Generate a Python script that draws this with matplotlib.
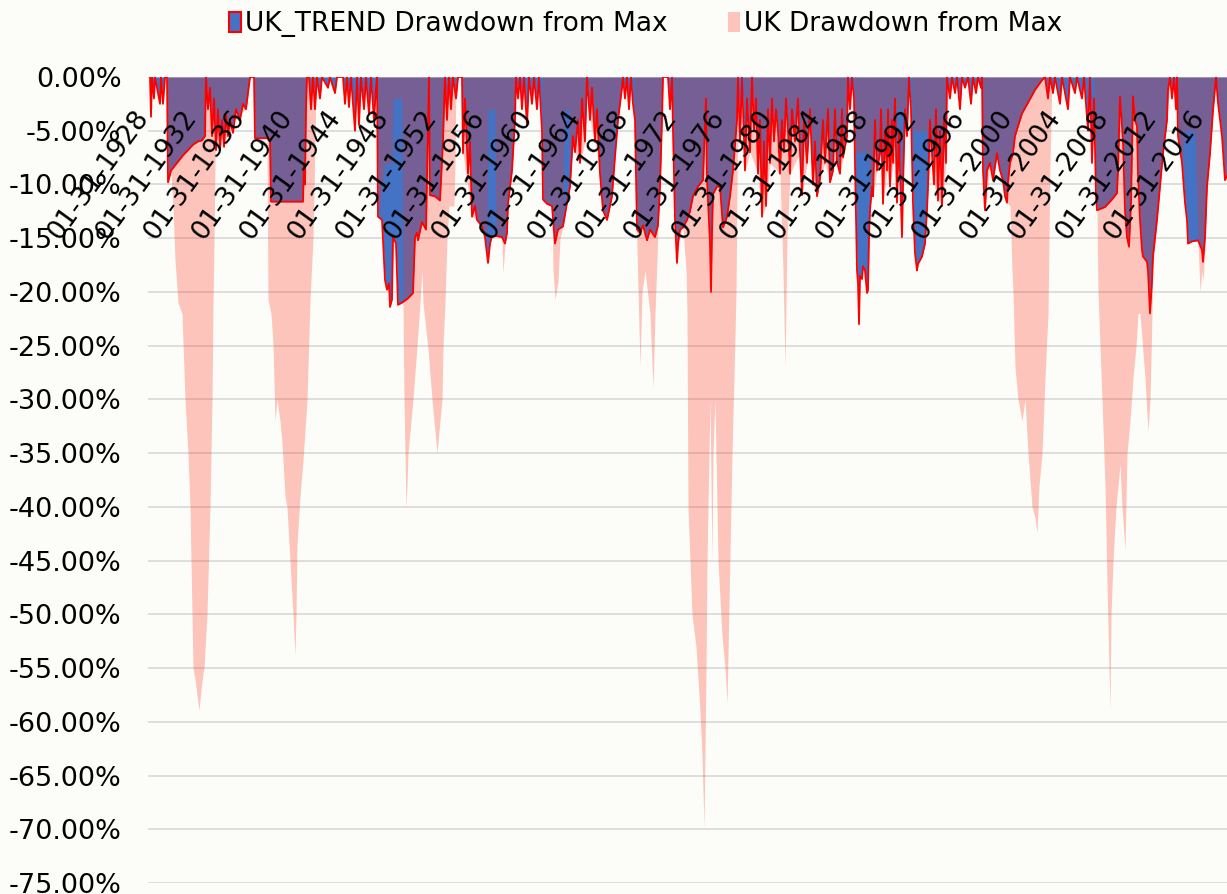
import matplotlib
matplotlib.use("Agg")
import matplotlib.pyplot as plt
from matplotlib.patches import Patch
from matplotlib.transforms import blended_transform_factory, ScaledTranslation

# ---- data: month offset from Jan-1928, drawdown in percent ----
trend_points = [(0,0),(1,-3.7),(2,0),(4,-2),(5,0),(10,-2.5),(11,0),(13,-2.5),(15,0),(17,0),(18,-9.8),(21,-8.7),(27,-8.0),(33,-7.3),(38,-6.8),(43,-6.3),(48,-6.0),(52,-5.9),(55,-5.5),(56,0),(58,-3),(60,-1),(62,-5.5),(64,-2),(66,-6.8),(68,-3),(70,-6.8),(72,-4),(74,-6.5),(76,-3.5),(78,-5.5),(80,-4),(83,-5.2),(86,-3),(90,-4),(93,-2.5),(96,-3),(98,-1.5),(100,0),(104,0),(105,-5.7),(120,-5.7),(121,-11.6),(153,-11.6),(154,-8),(155,-10),(156,-3),(157,0),(159,0),(161,-3),(163,0),(165,-3),(167,0),(170,-2),(172,0),(178,-1),(180,0),(185,-1.5),(187,0),(193,0),(195,-2.5),(197,0),(199,-2.8),(201,0),(205,-5),(207,0),(209,-4.5),(211,0),(214,-3),(216,0),(219,-3.5),(221,0),(224,-4),(226,-1),(227,0),(228,-13),(232,-13.3),(235,-18.9),(237,-19.8),(239,-19.2),(240,-21.4),(242,-20.7),(243,-14.9),(246,-15.5),(248,-21.2),(252,-21),(258,-20.6),(263,-20.1),(265,-14.9),(267,-14.5),(268,-15.2),(272,-13.5),(276,-14.2),(278,-5),(279,0),(280,-11),(285,-11.1),(290,-11.5),(293,-6),(295,0),(297,-4),(299,0),(301,-3),(303,0),(306,-2),(308,0),(312,0),(313,-7.1),(315,-2),(318,-9),(320,-6),(322,-13),(325,-12),(327,-13.3),(332,-13.9),(335,-14.9),(338,-17.3),(340,-15.5),(342,-14.8),(347,-14.8),(352,-14.9),(355,-15.5),(357,-14.5),(358,-11.8),(362,-8.7),(365,-4),(366,0),(368,-2),(370,0),(372,-3),(374,0),(377,-4.5),(379,0),(382,-2.5),(384,0),(387,-3),(389,0),(392,-5),(393,-11.4),(397,-11.8),(402,-12),(405,-15.5),(408,-14.2),(413,-13.9),(417,-11.7),(420,-10.2),(423,-5.5),(425,-7),(428,-4),(430,-8),(432,-2),(435,-6),(437,0),(440,-4),(442,-1),(445,-6),(447,-3),(450,-9),(453,-12.4),(457,-13.3),(462,-11.1),(465,-7.4),(468,-4),(472,-1),(473,0),(475,-2),(477,0),(479,-3),(481,0),(483,-2.5),(485,-4),(487,-14.2),(490,-14.5),(493,-13.8),(497,-15.2),(500,-14.2),(505,-14.9),(508,-13.8),(510,-10.2),(512,-4),(513,0),(518,0),(520,-3),(522,0),(523,-5),(525,-13.3),(527,-17.3),(528,-15.5),(530,-14.2),(533,-14),(537,-13.3),(540,-12.5),(543,-11.1),(548,-10.2),(553,-9.6),(556,-2),(557,-9.5),(560,-15.5),(561,-20),(562,-14.5),(563,-10.9),(567,-10.2),(570,-10.2),(573,-14),(577,-13),(580,-11.1),(583,-8.7),(587,-4),(588,0),(590,-6),(592,0),(595,-8.7),(597,-2),(600,-7),(602,0),(604,-5),(606,-2),(608,-9),(610,-4),(612,-13),(614,-6),(616,-12),(618,-3),(620,-8),(622,-2),(624,-6),(626,-3),(628,-5),(630,-9),(632,-4),(634,-7),(636,-2),(638,-5),(640,-9),(642,-3),(645,-6),(648,-2),(650,-7),(652,-11),(654,-4),(657,-8),(660,-3),(663,-10),(665,-6),(667,-11.1),(670,-9.5),(673,-4),(675,-8),(678,-3),(680,-9.8),(683,-8.7),(685,-3),(687,-7.9),(690,-9),(692,-3),(693,-7.5),(697,-5.5),(698,0),(700,-3),(702,0),(704,-2),(705,-8),(707,-18),(708,-19.2),(709,-23),(710,-18.5),(712,-18.8),(713,-17.6),(715,-18),(717,-20.1),(718,-19.8),(719,-14.9),(720,-12.4),(722,-10.2),(723,-11.1),(725,-4),(727,-8.7),(730,-7.1),(731,-3),(733,-11.8),(735,-5),(737,-8.7),(738,-3),(740,-10.2),(742,-4),(743,-8),(745,-2),(747,-11.7),(749,-5),(750,-8.7),(752,-14.9),(753,-10.2),(755,-3),(757,-5.5),(759,0),(761,-3),(763,-11.8),(765,-16.4),(767,-18),(768,-17.4),(772,-16.7),(775,-15.5),(777,-12.4),(778,-10.2),(780,-4),(782,-7.1),(784,-10),(786,-3),(788,-11.5),(790,-5),(792,-12),(794,-4),(796,-8),(797,0),(800,-2),(802,0),(805,-1.5),(807,0),(810,-3),(812,0),(815,-1),(818,0),(821,-2.5),(823,0),(826,-1.5),(828,0),(831,-1),(832,0),(833,-8.7),(835,-12.4),(837,-8.7),(840,-8),(843,-9.6),(847,-7.1),(850,-8.7),(853,-9.6),(855,-11.1),(857,-11.7),(858,-9.8),(860,-8),(863,-7.1),(865,-5.5),(872,-3.4),(878,-2.4),(885,-1.2),(892,-0.3),(895,0),(898,-2),(900,0),(903,-1.5),(905,0),(910,-2.5),(912,0),(918,-3),(920,0),(925,-1.5),(927,0),(932,-2),(934,0),(938,-5),(940,0),(942,-8),(944,-2),(946,-11),(947,-12.4),(955,-12.1),(962,-11.4),(967,-10.8),(968,-8.7),(970,-1.8),(973,-6),(975,-12.4),(977,-14.9),(979,-15.8),(981,-11.8),(983,-1.8),(985,-4),(987,-4.6),(988,-9),(990,-13.3),(992,-16.1),(993,-16.7),(997,-17.2),(998,-18),(1000,-22),(1002,-19),(1003,-16.7),(1007,-13.3),(1010,-10.2),(1013,-7.1),(1017,-4),(1018,-1.2),(1020,0),(1022,-2),(1024,0),(1026,-3),(1027,0),(1028,-5.5),(1032,-8),(1035,-11.7),(1037,-13.3),(1038,-15.5),(1042,-15.3),(1048,-15.2),(1052,-16.1),(1053,-17.2),(1055,-14.9),(1057,-10.2),(1060,-7.1),(1063,-3.1),(1066,0),(1068,-2.4),(1072,-5.5),(1075,-9.6),(1077,-9.2)]

uk_points = [(0,0),(17,0),(18,-9.8),(21,-9),(23,-12),(25,-17),(28,-21),(32,-22),(35,-30),(38,-35),(40,-40),(42,-50),(43,-55),(45,-56),(47,-57.5),(49,-58.9),(51,-57),(53,-55.5),(54,-55),(57,-50),(60,-40),(62,-30),(63,-21),(64,-15),(65,-8),(66,-5),(68,-4),(75,-6),(85,-4),(95,-3),(100,0),(104,0),(105,-5.7),(117,-5.7),(118,-20.7),(121,-22),(123,-24.8),(125,-32),(127,-30),(130,-32),(132,-34),(135,-39),(137,-40),(140,-45),(143,-50),(145,-53.8),(146,-50),(147,-43.5),(150,-39),(153,-35.7),(157,-30),(160,-20.7),(163,-15),(165,-6),(166,0),(227,0),(228,-13),(232,-10),(235,-8),(242,-8),(243,-2),(252,-2),(253,-21),(254,-30),(255,-35),(256,-40.1),(257,-38),(258,-35),(263,-30),(267,-25),(270,-21),(272,-18),(273,-21),(278,-25.3),(282,-30),(285,-33),(287,-35),(289,-33),(292,-30),(293,-25),(295,-21),(297,-15),(299,-12),(304,-12),(305,-8),(306,0),(312,0),(313,-7.1),(322,-13),(328,-13.3),(337,-14.5),(338,-3),(345,-3),(346,-14.8),(352,-15),(353,-18.3),(355,-15.5),(357,-14.5),(358,-11.8),(362,-8.7),(365,-4),(366,0),(392,0),(393,-11.4),(397,-11.8),(402,-12),(403,-18),(405,-20.7),(408,-19),(410,-15),(413,-13.9),(414,-3),(419,-3),(420,-10.2),(423,-5.5),(425,-7),(430,-8),(435,-6),(437,0),(440,-4),(445,-6),(450,-9),(453,-12.4),(457,-13.3),(462,-11.1),(463,-4),(467,-4),(468,-4),(472,-1),(473,0),(484,0),(485,-4),(487,-16),(490,-27),(492,-20),(495,-18),(500,-22),(503,-29),(505,-22),(507,-17),(508,-13.8),(510,-10.2),(512,-4),(513,0),(522,0),(523,-5),(525,-13.3),(527,-17.3),(530,-14.5),(533,-14),(536,-18),(537,-22),(538,-40),(542,-50),(546,-53),(550,-59),(552,-63),(554,-69.9),(556,-55),(557,-45),(559,-35),(560,-30),(562,-45),(563,-35),(565,-30),(568,-45),(572,-52),(575,-55),(577,-58.3),(579,-49),(582,-35),(584,-28),(586,-20),(587,-10),(588,-5),(589,0),(594,0),(595,-8.7),(600,-7),(608,-9),(612,-13),(616,-12),(620,-8),(630,-9),(633,-18),(635,-27),(637,-15),(640,-9),(650,-7),(652,-11),(657,-8),(660,-3),(663,-10),(667,-11.1),(670,-9.5),(675,-8),(680,-9.8),(683,-8.7),(687,-7.9),(690,-9),(693,-7.5),(697,-5.5),(698,0),(704,0),(705,-7),(719,-7),(720,-12.4),(722,-10.2),(723,-11.1),(727,-8.7),(730,-7.1),(733,-11.8),(737,-8.7),(740,-10.2),(743,-8),(746,-8),(747,-3),(757,-3),(759,0),(762,0),(763,-5),(777,-5),(778,-10.2),(782,-7.1),(784,-10),(788,-11.5),(792,-12),(796,-8),(797,0),(832,0),(833,-8.7),(835,-12.4),(840,-8),(843,-9.6),(847,-7.1),(850,-8.7),(855,-11.1),(857,-11.7),(860,-12),(862,-18),(863,-20),(865,-27),(868,-30),(872,-32),(875,-30),(878,-35),(882,-40),(885,-41),(887,-42.4),(889,-38),(892,-35),(895,-28),(898,-22),(900,-8),(902,0),(944,0),(945,-5),(947,-12.4),(948,-20),(952,-30),(955,-38),(957,-47),(959,-55),(960,-58.9),(961,-50),(963,-45),(966,-40),(968,-38),(970,-36),(972,-40),(975,-44),(977,-35),(980,-32),(983,-28),(986,-25),(988,-22),(990,-22),(995,-28),(998,-33),(1000,-30),(1002,-22),(1003,-17),(1007,-13.3),(1010,-10.2),(1013,-7.1),(1017,-4),(1020,0),(1027,0),(1028,-5.5),(1032,-8),(1035,-5),(1045,-5),(1048,-15.2),(1050,-20),(1052,-18),(1053,-19),(1055,-16),(1057,-10.2),(1060,-7.1),(1063,-3.1),(1066,0),(1068,-2.4),(1072,-5.5),(1075,-9.6),(1077,-9.2)]

tick_labels = ["01-31-1928", "01-31-1932", "01-31-1936", "01-31-1940", "01-31-1944",
               "01-31-1948", "01-31-1952", "01-31-1956", "01-31-1960", "01-31-1964",
               "01-31-1968", "01-31-1972", "01-31-1976", "01-31-1980", "01-31-1984",
               "01-31-1988", "01-31-1992", "01-31-1996", "01-31-2000", "01-31-2004",
               "01-31-2008", "01-31-2012", "01-31-2016"]
tick_months = [0, 48, 96, 144, 192, 240, 288, 336, 384, 432, 480, 528, 576,
               624, 672, 720, 768, 816, 864, 912, 960, 1008, 1056]
y_ticks = [0, -5, -10, -15, -20, -25, -30, -35, -40, -45, -50, -55, -60, -65, -70, -75]

series_names = ["UK_TREND Drawdown from Max", "UK Drawdown from Max"]

# ---- styling ----
BG = "#FCFCF8"
BLUE = "#4472C4"
EDGE = "#FF0000"
UK_COLOR = (1.0, 0.18, 0.08)
UK_ALPHA = 0.27

trend_m = [p[0] for p in trend_points]
trend_v = [p[1] for p in trend_points]
uk_m = [p[0] for p in uk_points]
uk_v = [p[1] for p in uk_points]

fig = plt.figure(figsize=(12.27, 8.94), dpi=100, facecolor=BG)
ax = fig.add_axes([148 / 1227, 11 / 894, 1079 / 1227, 806 / 894])
ax.set_facecolor(BG)

ax.fill_between(trend_m, trend_v, 0, color=BLUE, lw=0, zorder=1)
ax.fill_between(uk_m, uk_v, 0, color=UK_COLOR, alpha=UK_ALPHA, lw=0, zorder=2)
ax.plot(trend_m, trend_v, color=EDGE, lw=1.3, zorder=3)

ax.set_xlim(-2, 1077)
ax.set_ylim(-75, 0)

ax.set_yticks(y_ticks)
ax.set_yticklabels([f"{v:.2f}%" for v in y_ticks])
ax.tick_params(axis="y", length=0, pad=19, labelsize=19.5)
ax.yaxis.grid(True, color="#D9D9D9", lw=1.2)
ax.set_axisbelow(True)

ax.set_xticks([])
# category labels drawn inside the plot just below the zero line
lab_tr = blended_transform_factory(ax.transData, ax.transAxes) + \
    ScaledTranslation(-6 / 100, -36 / 100, fig.dpi_scale_trans)
for m, lab in zip(tick_months, tick_labels):
    ax.text(m, 1.0, lab, transform=lab_tr, rotation=54, ha="right", va="center",
            rotation_mode="anchor", fontsize=19, color="#000000", zorder=6,
            clip_on=False)

for s in ax.spines.values():
    s.set_visible(False)

handles = [Patch(facecolor=BLUE, edgecolor=EDGE, lw=1.5),
           Patch(facecolor=UK_COLOR, alpha=UK_ALPHA, lw=0)]
fig.legend(handles, series_names, loc="upper center", bbox_to_anchor=(0.526, 1.005),
           ncol=2, frameon=False, fontsize=19, handlelength=0.45, handleheight=0.8,
           handletextpad=0.15, columnspacing=2.3, borderaxespad=0.2)

fig.savefig("out.png", dpi=100, facecolor=BG)
